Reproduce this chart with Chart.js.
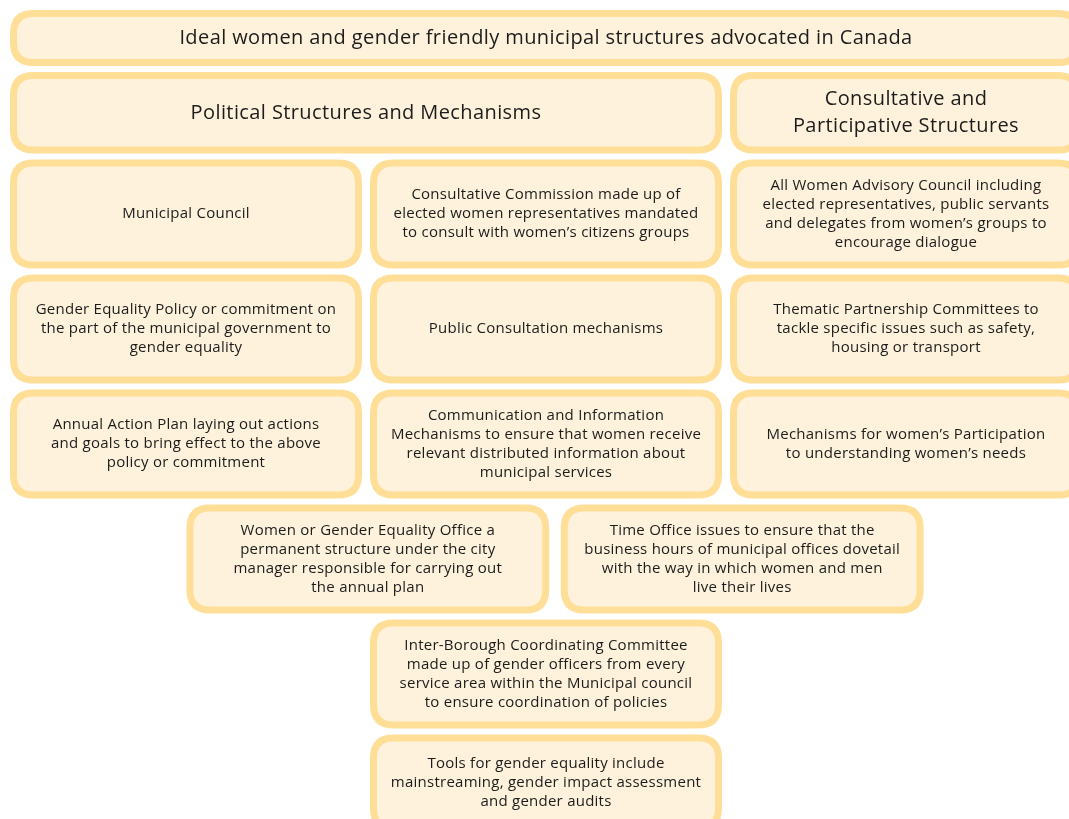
<!DOCTYPE html>
<html>
<head>
<meta charset="utf-8">
<script src="https://cdn.jsdelivr.net/npm/chart.js@4/dist/chart.umd.min.js"></script>
<style>
  html, body { margin: 0; padding: 0; background: #ffffff; }
  #wrap { width: 1069px; height: 819px; }
</style>
</head>
<body>
<div id="wrap"><canvas id="diagram"></canvas></div>
<script>
// Box texts (one entry per box, lines as drawn)
const boxLabels = [
  ["Ideal women and gender friendly municipal structures advocated in Canada"],
  ["Political Structures and Mechanisms"],
  ["Consultative and", "Participative Structures"],
  ["Municipal Council"],
  ["Consultative Commission made up of", "elected women representatives mandated", "to consult with women’s citizens groups"],
  ["All Women Advisory Council including", "elected representatives, public servants", "and delegates from women’s groups to", "encourage dialogue"],
  ["Gender Equality Policy or commitment on", "the part of the municipal government to", "gender equality"],
  ["Public Consultation mechanisms"],
  ["Thematic Partnership Committees to", "tackle specific issues such as safety,", "housing or transport"],
  ["Annual Action Plan laying out actions", "and goals to bring effect to the above", "policy or commitment"],
  ["Communication and Information", "Mechanisms to ensure that women receive", "relevant distributed information about", "municipal services"],
  ["Mechanisms for women’s Participation", "to understanding women’s needs"],
  ["Women or Gender Equality Office a", "permanent structure under the city", "manager responsible for carrying out", "the annual plan"],
  ["Time Office issues to ensure that the", "business hours of municipal offices dovetail", "with the way in which women and men", "live their lives"],
  ["Inter-Borough Coordinating Committee", "made up of gender officers from every", "service area within the Municipal council", "to ensure coordination of policies"],
  ["Tools for gender equality include", "mainstreaming, gender impact assessment", "and gender audits"]
];

// grid column where each box starts, how many columns it spans, and its row
const boxCols  = [0, 0, 2, 0, 1, 2, 0, 1, 2, 0, 1, 2, 0.49, 1.53, 1, 1];
const boxSpans = [3, 2, 1, 1, 1, 1, 1, 1, 1, 1, 1, 1, 1.03, 1.03, 1, 1];
const boxRows  = [0, 1, 1, 2, 2, 2, 3, 3, 3, 4, 4, 4, 5, 5, 6, 7];
// heading boxes use the larger type
const boxHeading = [true, true, true, false, false, false, false, false, false, false, false, false, false, false, false, false];

// relative height of each grid row (title, header, then body rows)
const rowHeights = [0.54, 0.76, 1, 1, 1, 1, 1, 0.9];

const rowTops = [];
rowHeights.reduce((acc, h, i) => { rowTops[i] = acc; return acc + h; }, 0);

const points = boxLabels.map((_, i) => ({
  x: boxCols[i] + boxSpans[i] / 2,
  y: rowTops[boxRows[i]] + rowHeights[boxRows[i]] / 2
}));

function roundRect(ctx, x, y, w, h, r) {
  ctx.beginPath();
  ctx.moveTo(x + r, y);
  ctx.lineTo(x + w - r, y);
  ctx.quadraticCurveTo(x + w, y, x + w, y + r);
  ctx.lineTo(x + w, y + h - r);
  ctx.quadraticCurveTo(x + w, y + h, x + w - r, y + h);
  ctx.lineTo(x + r, y + h);
  ctx.quadraticCurveTo(x, y + h, x, y + h - r);
  ctx.lineTo(x, y + r);
  ctx.quadraticCurveTo(x, y, x + r, y);
  ctx.closePath();
}

// draws the rounded boxes and their text from the scales
const boxPlugin = {
  id: "boxes",
  afterDatasetsDraw(chart, args, opts) {
    const { ctx, scales: { x, y } } = chart;
    ctx.save();
    boxLabels.forEach((lines, i) => {
      const r = boxRows[i];
      const left = x.getPixelForValue(boxCols[i]);
      const right = x.getPixelForValue(boxCols[i] + boxSpans[i]) - opts.gapX;
      const top = y.getPixelForValue(rowTops[r]);
      const bottom = y.getPixelForValue(rowTops[r] + rowHeights[r]) - opts.gapY;
      const bw = opts.borderWidth;
      roundRect(ctx, left + bw / 2, top + bw / 2, right - left - bw, bottom - top - bw, opts.radius);
      ctx.fillStyle = opts.fill;
      ctx.fill();
      ctx.lineWidth = bw;
      ctx.strokeStyle = opts.border;
      ctx.stroke();

      const big = boxHeading[i];
      const size = big ? opts.headSize : opts.bodySize;
      const lh = big ? opts.headLine : opts.bodyLine;
      ctx.font = size + "px " + opts.family;
      ctx.letterSpacing = (big ? opts.headSpacing : opts.bodySpacing) + "px";
      ctx.fillStyle = opts.color;
      ctx.textAlign = "center";
      ctx.textBaseline = "middle";
      const cx = (left + right) / 2;
      const cy = (top + bottom) / 2;
      const start = cy - (lines.length - 1) * lh / 2;
      lines.forEach((t, k) => ctx.fillText(t, cx, start + k * lh));
    });
    ctx.restore();
  }
};

new Chart(document.getElementById("diagram"), {
  type: "scatter",
  data: {
    datasets: [{ data: points, pointRadius: 0, pointHoverRadius: 0 }]
  },
  options: {
    responsive: true,
    maintainAspectRatio: false,
    animation: false,
    events: [],
    layout: { padding: 0 },
    scales: {
      x: { type: "linear", display: false, min: -0.0278, max: 2.9417 },
      y: { type: "linear", display: false, reverse: true, min: -0.087, max: 7.035 }
    },
    plugins: {
      legend: { display: false },
      tooltip: { enabled: false },
      boxes: {
        gapX: 8,
        gapY: 6,
        borderWidth: 7,
        radius: 20,
        fill: "#fff2dc",
        border: "#ffdf98",
        color: "#1c1c1c",
        family: "'Open Sans', 'Noto Sans', sans-serif",
        headSize: 20,
        headLine: 27,
        headSpacing: 0.4,
        bodySize: 15,
        bodyLine: 19,
        bodySpacing: 0.25
      }
    }
  },
  plugins: [boxPlugin]
});
</script>
</body>
</html>
